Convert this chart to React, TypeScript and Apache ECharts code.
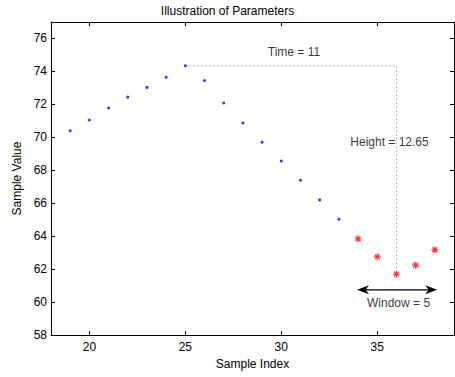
import React, { useEffect, useRef } from "react";
import * as echarts from "echarts";

// ---- data ----
const sampleIndex = [19, 20, 21, 22, 23, 24, 25, 26, 27, 28, 29, 30, 31, 32, 33, 34, 35, 36, 37, 38];
const sampleValue = [70.4, 71.05, 71.78, 72.44, 73.03, 73.65, 74.34, 73.45, 72.08, 70.87, 69.7, 68.56, 67.39, 66.2, 65.03, 63.84, 62.75, 61.69, 62.24, 63.17];
const windowStart = 34; // first sample of the window (red)
const peakIndex = 25;
const valleyIndex = 36;
const xTicks = [20, 25, 30, 35];
const yTicks = [58, 60, 62, 64, 66, 68, 70, 72, 74, 76];
const arrowY = 60.75;
const arrowFrom = 34.26;
const arrowTo = 37.81;
const annotationText = ["Time = 11", "Height = 12.65", "Window = 5"];
const annotationX = [30.66, 35.64, 36.11];
const annotationY = [75.19, 69.73, 59.94];

const FONT = "'Liberation Sans', Arial, Helvetica, sans-serif";
const ASTERISK =
  "path://M4.2,0 L5.8,0 L5.8,10 L4.2,10 Z M0,4.2 L10,4.2 L10,5.8 L0,5.8 Z M0.9,2.1 L2.1,0.9 L9.1,7.9 L7.9,9.1 Z M7.9,0.9 L9.1,2.1 L2.1,9.1 L0.9,7.9 Z";
const ARROWHEAD = "path://M5,0 L10,12 L5,8.5 L0,12 Z";

export default function App() {
  const ref = useRef<HTMLDivElement>(null);
  useEffect(() => {
    if (!ref.current) return;
    const chart = echarts.init(ref.current, undefined, { renderer: "svg" });

    const blue: number[][] = [];
    const red: number[][] = [];
    sampleIndex.forEach((x, i) => {
      (x >= windowStart ? red : blue).push([x, sampleValue[i]]);
    });
    const peakVal = sampleValue[sampleIndex.indexOf(peakIndex)];
    const valleyVal = sampleValue[sampleIndex.indexOf(valleyIndex)];

    const axisText = { color: "#000", fontSize: 12, fontFamily: FONT };
    const lineStyle = { color: "#000", width: 1 };

    chart.setOption({
      animation: false,
      title: {
        text: "Illustration of Parameters",
        left: "center",
        top: 0,
        textStyle: { color: "#000", fontSize: 12, fontWeight: "normal", fontFamily: FONT },
      },
      grid: { left: 51, right: 1, top: 22, bottom: 42, show: false },
      xAxis: [
        {
          type: "value",
          min: 18,
          max: 39,
          position: "bottom",
          name: "Sample Index",
          nameLocation: "middle",
          nameGap: 19,
          nameTextStyle: axisText,
          axisLine: { show: true, lineStyle },
          axisTick: { show: true, inside: true, length: 4, lineStyle, customValues: xTicks },
          axisLabel: { ...axisText, margin: 6, customValues: xTicks },
          splitLine: { show: false },
        },
        {
          type: "value",
          min: 18,
          max: 39,
          position: "top",
          axisLine: { show: true, lineStyle },
          axisTick: { show: true, inside: true, length: 4, lineStyle, customValues: xTicks },
          axisLabel: { show: false },
          splitLine: { show: false },
        },
      ],
      yAxis: [
        {
          type: "value",
          min: 58,
          max: 77,
          position: "left",
          name: "Sample Value",
          nameLocation: "middle",
          nameGap: 22,
          nameTextStyle: axisText,
          axisLine: { show: true, lineStyle },
          axisTick: { show: true, inside: true, length: 4, lineStyle, customValues: yTicks },
          axisLabel: { ...axisText, margin: 4, customValues: yTicks },
          splitLine: { show: false },
        },
        {
          type: "value",
          min: 58,
          max: 77,
          position: "right",
          axisLine: { show: true, lineStyle },
          axisTick: { show: true, inside: true, length: 4, lineStyle, customValues: yTicks },
          axisLabel: { show: false },
          splitLine: { show: false },
        },
      ],
      series: [
        {
          type: "line",
          data: [
            [peakIndex, peakVal],
            [valleyIndex, peakVal],
            [valleyIndex, valleyVal],
          ],
          symbol: "none",
          lineStyle: { color: "#5a5aff", width: 1, type: [1, 3] },
          silent: true,
          z: 1,
        },
        {
          type: "scatter",
          data: blue,
          symbol: "circle",
          symbolSize: 3,
          itemStyle: { color: "#0000ff" },
          silent: true,
          z: 3,
        },
        {
          type: "scatter",
          data: red,
          symbol: ASTERISK,
          symbolSize: 7,
          itemStyle: { color: "#ff0000" },
          silent: true,
          z: 3,
        },
        {
          type: "scatter",
          data: annotationText.map((t, i) => ({ value: [annotationX[i], annotationY[i]], name: t })),
          symbolSize: 0,
          silent: true,
          label: {
            show: true,
            position: "inside",
            formatter: (p: any) => p.name,
            color: "#000",
            fontSize: 12,
            fontFamily: FONT,
          },
          markLine: {
            silent: true,
            animation: false,
            label: { show: false },
            data: [
              [
                { coord: [arrowFrom, arrowY], symbol: "none", lineStyle: { color: "#7a7a7a", width: 2, type: "solid" } },
                { coord: [arrowTo, arrowY], symbol: "none" },
              ],
              [
                {
                  coord: [arrowFrom, arrowY],
                  symbol: ARROWHEAD,
                  symbolSize: [9, 12],
                  lineStyle: { color: "#000", width: 0.5, type: "solid" },
                },
                { coord: [arrowTo, arrowY], symbol: ARROWHEAD, symbolSize: [9, 12] },
              ],
            ],
          },
          z: 4,
        },
      ],
    });
    return () => chart.dispose();
  }, []);
  return <div ref={ref} style={{ position: "absolute", left: 0, top: 0, width: 455, height: 377 }} />;
}
